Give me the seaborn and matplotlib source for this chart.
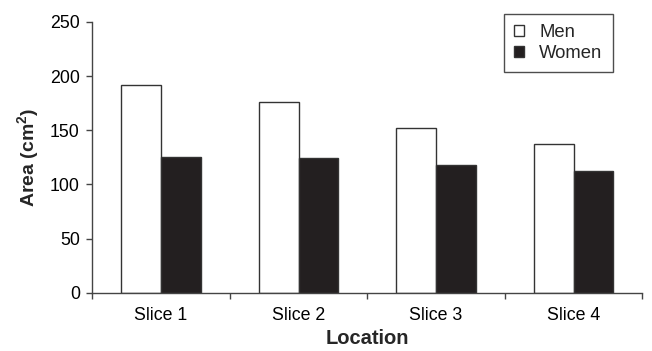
import pandas as pd
import matplotlib
matplotlib.use("Agg")
import matplotlib.pyplot as plt
import seaborn as sns

sns.set_style("white")
plt.rcParams['font.family'] = ['Liberation Sans', 'DejaVu Sans']
plt.rcParams['mathtext.fontset'] = 'custom'
plt.rcParams['mathtext.bf'] = 'Liberation Sans:bold'
plt.rcParams['mathtext.rm'] = 'Liberation Sans'

# --- DATA ---
locations = ['Slice 1', 'Slice 2', 'Slice 3', 'Slice 4']
men_area = [192, 176, 152, 137]
women_area = [125, 124, 118, 112]

df = pd.DataFrame({
    'Location': locations * 2,
    'Area': men_area + women_area,
    'Group': ['Men'] * len(locations) + ['Women'] * len(locations),
})

# --- PLOTTING ---
fig = plt.figure(figsize=(6.52, 3.51), dpi=100)
ax = fig.add_axes([92.3 / 652, 1 - 292.7 / 351, 550 / 652, 270.7 / 351])

sns.barplot(
    data=df, x='Location', y='Area', hue='Group',
    palette={'Men': 'white', 'Women': '#231f20'},
    width=0.58, gap=0, edgecolor='#333333', linewidth=1.0,
    saturation=1, ax=ax,
)

ax.set_ylim(0, 250)
ax.set_yticks(range(0, 251, 50))
ax.set_xlim(-0.5, len(locations) - 0.5)

# ticks at category boundaries
ax.set_xticks([i - 0.5 for i in range(len(locations) + 1)], minor=True)
ax.tick_params(axis='x', which='major', length=0, pad=10, labelsize=12.8, colors='black')
ax.tick_params(axis='x', which='minor', length=4, width=1, color='#444444', direction='out', bottom=True)
ax.tick_params(axis='y', which='major', length=4, width=1, color='#444444', direction='out',
               left=True, pad=5, labelsize=12.8, labelcolor='black')

for side in ['top', 'right']:
    ax.spines[side].set_visible(False)
for side in ['left', 'bottom']:
    ax.spines[side].set_color('#444444')
    ax.spines[side].set_linewidth(1)

ax.set_xlabel('Location', fontsize=14.5, fontweight='bold', labelpad=4)
ax.set_ylabel(r'Area (cm$^\mathbf{2}$)', fontsize=14, fontweight='bold', labelpad=6)

leg = ax.legend(
    loc='upper left', bbox_to_anchor=(504 / 652, 1 - 14 / 351),
    bbox_transform=fig.transFigure, borderaxespad=0,
    frameon=True, fancybox=False, fontsize=13.3,
    handlelength=0.55, handleheight=0.55, handletextpad=0.8,
    labelspacing=0.2, borderpad=0.55, title=None,
)
leg.get_frame().set_edgecolor('#222222')
leg.get_frame().set_linewidth(1)

fig.savefig('out.png', dpi=100)
